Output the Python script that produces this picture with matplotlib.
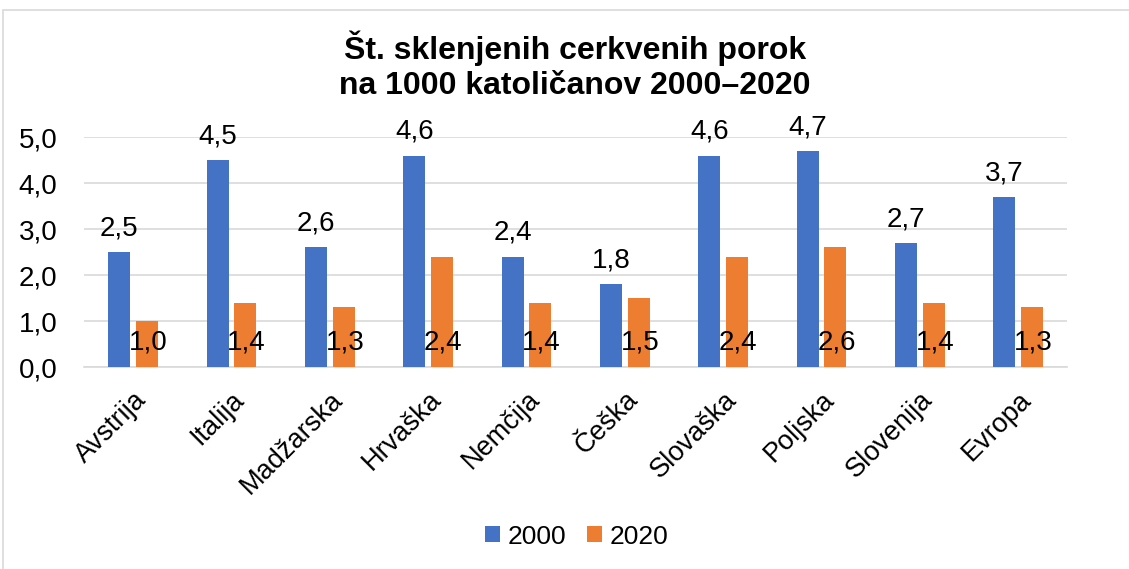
import matplotlib.pyplot as plt
import numpy as np
from matplotlib.patches import Rectangle

plt.rcParams['font.family'] = ['Liberation Sans', 'DejaVu Sans']

# poroke na 1000 katoličanov
drzave = ['Avstrija', 'Italija', 'Madžarska', 'Hrvaška', 'Nemčija',
          'Češka', 'Slovaška', 'Poljska', 'Slovenija', 'Evropa']
leto_2000 = [2.5, 4.5, 2.6, 4.6, 2.4, 1.8, 4.6, 4.7, 2.7, 3.7]
leto_2020 = [1.0, 1.4, 1.3, 2.4, 1.4, 1.5, 2.4, 2.6, 1.4, 1.3]
y_ticks = [0, 1, 2, 3, 4, 5]

def fmt(v):
    return f'{v:.1f}'.replace('.', ',')

fig = plt.figure(figsize=(11.29, 5.69), dpi=100)
ax = fig.add_axes([0.0744, 0.355, 0.871, 0.404])

# okvir grafikona
fig.patches.append(Rectangle((3 / 1129, -0.1), 1.2, 1 - 10 / 569 + 0.1,
                             transform=fig.transFigure, fill=False,
                             edgecolor='#D9D9D9', lw=1.2))

x = np.arange(len(drzave))
w = 0.224
off = 0.142
b1 = ax.bar(x - off, leto_2000, w, color='#4472C4', label='2000', zorder=3)
b2 = ax.bar(x + off, leto_2020, w, color='#ED7D31', label='2020', zorder=3)

for xi, v in zip(x, leto_2000):
    ax.annotate(fmt(v), (xi - off, v), xytext=(0, 12), textcoords='offset points',
                ha='center', va='baseline', fontsize=20, zorder=4)
for xi, v in zip(x, leto_2020):
    ax.text(xi + off + 0.01, 0.37, fmt(v), ha='center', va='baseline',
            fontsize=20, zorder=4)

ax.set_ylim(0, 5)
ax.set_xlim(-0.5, len(drzave) - 0.5)
ax.set_yticks(y_ticks)
ax.set_yticklabels([fmt(t) for t in y_ticks], fontsize=20)
ax.set_xticks(x)
ax.set_xticklabels(drzave, fontsize=19.5, rotation=45, ha='right',
                   rotation_mode='anchor')
ax.tick_params(axis='both', length=0)
ax.tick_params(axis='y', pad=19)
ax.tick_params(axis='x', pad=14)
ax.grid(axis='y', color='#D9D9D9', lw=1.2, zorder=0)
for s in ['top', 'right', 'left']:
    ax.spines[s].set_visible(False)
ax.spines['bottom'].set_color('#D9D9D9')
ax.spines['bottom'].set_linewidth(1.2)

fig.text(0.509, 0.884, 'Št. sklenjenih cerkvenih porok\nna 1000 katoličanov 2000–2020',
         ha='center', va='center', fontsize=23, fontweight='bold', linespacing=1.2)

fig.legend(handles=[b1, b2], loc='center', bbox_to_anchor=(0.511, 0.057), ncol=2,
           frameon=False, fontsize=19, handlelength=0.55, handleheight=0.55,
           handletextpad=0.3, columnspacing=0.8)

fig.savefig('out.png', dpi=100)
